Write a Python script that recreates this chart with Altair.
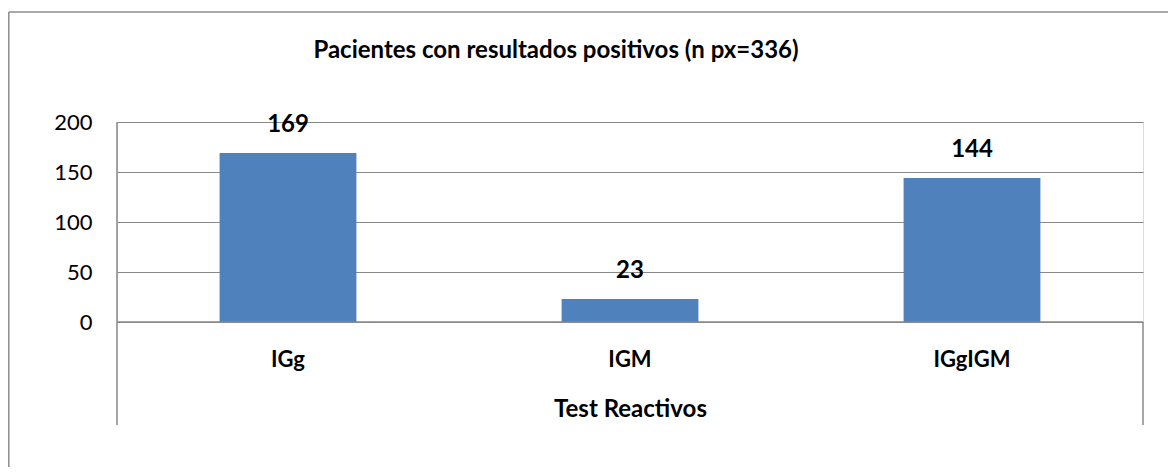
import altair as alt
import pandas as pd

categories = ["IGg", "IGM", "IGgIGM"]
values = [169, 23, 144]
y_ticks = [0, 50, 100, 150, 200]
title_text = ["Pacientes con resultados positivos (n px=336)"]

df = pd.DataFrame({"test": categories, "n": values})

FONT = "Lato"
GRID = "#888888"
W, H = 1026, 200

x_enc = alt.X("test:N", sort=categories,
              scale=alt.Scale(paddingInner=0.6, paddingOuter=0.3),
              axis=alt.Axis(title="Test Reactivos", labelAngle=0, domain=False, ticks=False,
                            labelFont=FONT, labelFontSize=22, labelFontWeight="bold",
                            labelColor="black", labelPadding=44, labelBaseline="alphabetic",
                            titleFont=FONT, titleFontSize=24, titleFontWeight="bold",
                            titleColor="black", titleY=94, titleBaseline="alphabetic"))
y_enc = alt.Y("n:Q", scale=alt.Scale(domain=[0, 200]),
              axis=alt.Axis(title=None, values=y_ticks, grid=True, gridColor=GRID,
                            gridWidth=1.2, domain=False, ticks=False,
                            labelFont=FONT, labelFontSize=22, labelColor="black",
                            labelPadding=25))

bars = alt.Chart(df).mark_bar(color="#4F81BD").encode(x=x_enc, y=y_enc)

labels = alt.Chart(df).mark_text(font=FONT, fontSize=24, fontWeight="bold",
                                 color="black", dy=-28, baseline="middle").encode(
    x=alt.X("test:N", sort=categories), y="n:Q", text="n:Q")

frame_df = pd.DataFrame({"k": [0]})
title_df = pd.DataFrame({"t": title_text})
title_mark = alt.Chart(title_df).mark_text(font=FONT, fontSize=24, fontWeight="bold",
                                           color="black", baseline="alphabetic",
                                           align="center").encode(
    x=alt.value(439), y=alt.value(-64), text="t:N")
left_line = alt.Chart(frame_df).mark_rule(color=GRID, strokeWidth=1.5).encode(
    x=alt.value(0), y=alt.value(0), y2=alt.value(303))
right_line = alt.Chart(frame_df).mark_rule(color=GRID, strokeWidth=1.5).encode(
    x=alt.value(W), y=alt.value(H), y2=alt.value(303))
base_line = alt.Chart(frame_df).mark_rule(color=GRID, strokeWidth=1.5).encode(
    x=alt.value(0), x2=alt.value(W), y=alt.value(H))
border_left = alt.Chart(frame_df).mark_rule(color="#8c8c8c", strokeWidth=1.5).encode(
    x=alt.value(-108.2), y=alt.value(-110), y2=alt.value(400))
border_top = alt.Chart(frame_df).mark_rule(color="#8c8c8c", strokeWidth=1.5).encode(
    x=alt.value(-108.2), x2=alt.value(1100), y=alt.value(-110))

chart = alt.layer(bars, labels, base_line, left_line, right_line,
                  border_left, border_top, title_mark).properties(
    width=W, height=H,
    autosize=alt.AutoSizeParams(type="none"),
    padding={"left": 109, "top": 114, "right": 25, "bottom": 145},
).configure_view(stroke=None).configure(background="white")

chart.save("out.html", embed_options={"renderer": "svg", "actions": False})
